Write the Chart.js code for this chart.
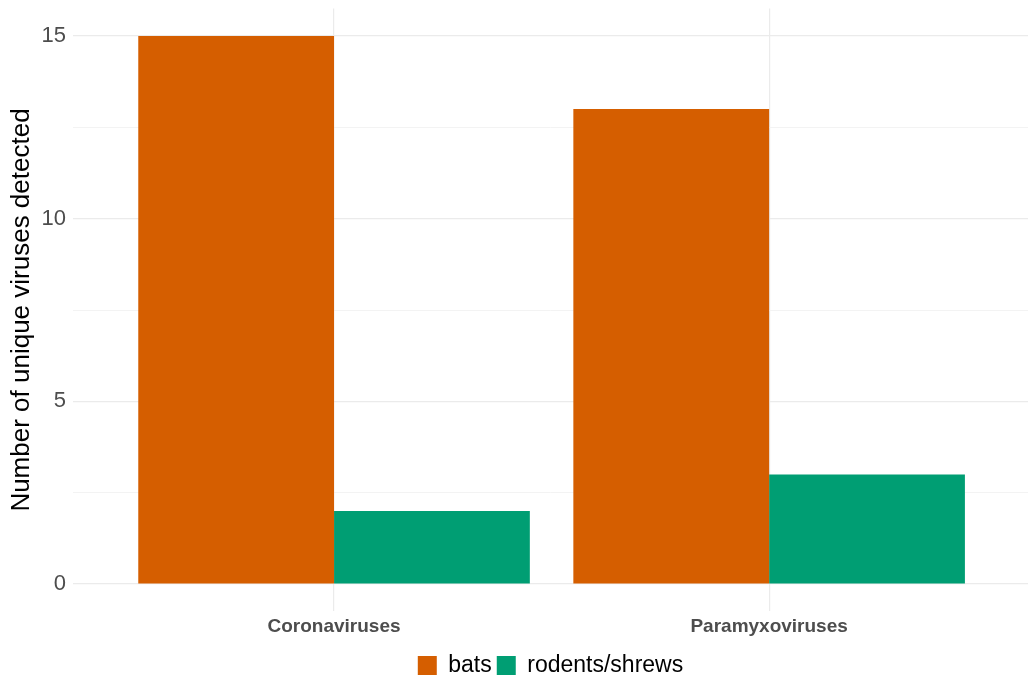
<!DOCTYPE html>
<html>
<head>
<meta charset="utf-8">
<script src="https://cdn.jsdelivr.net/npm/chart.js@4"></script>
<style>
  body { margin: 0; background: #fff; }
  #chart { display: block; }
</style>
</head>
<body>
<canvas id="chart" width="1028" height="679"></canvas>
<script>
// data
const categories = ['Coronaviruses', 'Paramyxoviruses'];
const bats = [15, 13];
const rodentsShrews = [2, 3];
const yTicks = [0, 2.5, 5, 7.5, 10, 12.5, 15];

const FONT = "'Liberation Sans', Arial, sans-serif";

// categories sit at x = 1, 2 on a linear scale (ggplot style padding of 0.6)
function toPoints(values) {
  return values.map((v, i) => ({ x: i + 1, y: v }));
}

const ctx = document.getElementById('chart').getContext('2d');
new Chart(ctx, {
  type: 'bar',
  data: {
    datasets: [
      { label: 'bats', data: toPoints(bats), backgroundColor: '#D55E00' },
      { label: 'rodents/shrews', data: toPoints(rodentsShrews), backgroundColor: '#009E73' }
    ]
  },
  options: {
    responsive: false,
    animation: false,
    events: [],
    categoryPercentage: 0.9,
    barPercentage: 1.0,
    layout: { padding: { top: 8.6, bottom: -8, left: 0, right: 0 } },
    scales: {
      x: {
        type: 'linear',
        min: 0.4,
        max: 2.595,
        bounds: 'data',
        offset: false,
        afterBuildTicks: s => { s.ticks = categories.map((c, i) => ({ value: i + 1 })); },
        afterFit: s => { s.height = 37.6; s.paddingLeft = 0; s.paddingRight = 0; },
        grid: { offset: false, color: '#ebebeb', lineWidth: 1.2, drawTicks: false },
        border: { display: false },
        ticks: {
          padding: 4,
          color: '#4d4d4d',
          font: { family: FONT, size: 19, weight: 'bold' },
          callback: v => categories[v - 1] || ''
        }
      },
      y: {
        min: -0.75,
        max: 15.75,
        bounds: 'data',
        afterBuildTicks: s => { s.ticks = yTicks.map(v => ({ value: v })); },
        afterFit: s => { s.width = 73; s.paddingTop = 0; s.paddingBottom = 0; },
        grid: {
          drawTicks: false,
          color: c => (c.tick && c.tick.value % 5 === 0) ? '#ebebeb' : '#f3f3f3',
          lineWidth: c => (c.tick && c.tick.value % 5 === 0) ? 1.2 : 1
        },
        border: { display: false },
        ticks: {
          padding: 7,
          color: '#4d4d4d',
          font: { family: FONT, size: 22 },
          callback: v => (v % 5 === 0 ? String(v) : '')
        },
        title: {
          display: true,
          text: 'Number of unique viruses detected',
          color: '#000',
          font: { family: FONT, size: 26 },
          padding: { top: 6, bottom: 0 }
        }
      }
    },
    plugins: {
      tooltip: { enabled: false },
      legend: {
        position: 'bottom',
        fullSize: false,
        labels: {
          boxWidth: 19,
          boxHeight: 19,
          padding: 5,
          color: '#000',
          font: { family: FONT, size: 23 }
        }
      }
    }
  }
});
</script>
</body>
</html>
